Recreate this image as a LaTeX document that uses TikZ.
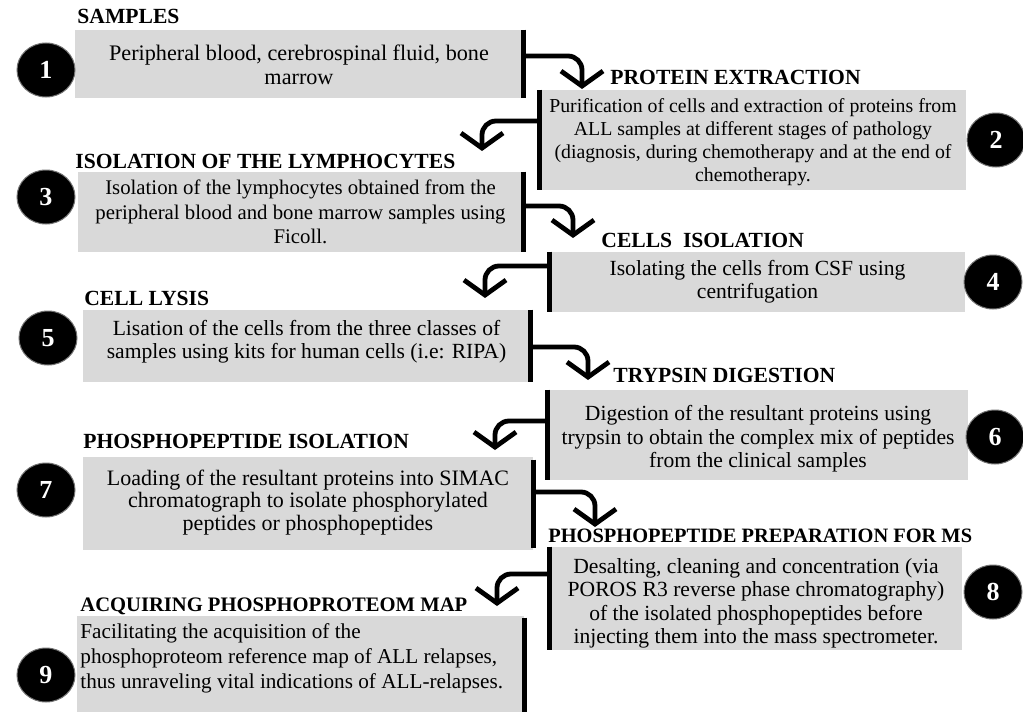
\documentclass[tikz,border=0pt]{standalone}
\usepackage{fontspec}
\setmainfont{Liberation Serif}
\usetikzlibrary{arrows.meta,shapes.geometric,fit}
\definecolor{boxgray}{RGB}{217,217,217}

\begin{document}
\begin{tikzpicture}[x=0.5pt,y=-0.5pt,
    box/.style={fill=boxgray,inner sep=0pt},
    txt/.style={inner sep=0pt,align=center,font=\fontsize{10.8}{11.7}\selectfont},
    title/.style={anchor=base west,inner sep=0pt,font=\fontsize{10.8}{12}\selectfont\bfseries},
    num/.style={ellipse,fill=black,draw=black!55,line width=0.5pt,minimum width=29pt,minimum height=27pt,inner sep=0pt,text=white,font=\fontsize{13}{15}\selectfont\bfseries},
    bar/.style={line width=2.5pt},
    flow/.style={line width=2.4pt,rounded corners=7pt,-{Straight Barb[length=7.5pt,width=21pt]}}]
        \useasboundingbox (0,0) rectangle (1023,712);
        % boxes
        \node[box,fit={(75,30) (523,98)}] (B1) {};
        \node[box,fit={(540,90) (966,190)}] (B2) {};
        \node[box,fit={(78,172) (523,252)}] (B3) {};
        \node[box,fit={(550,252) (965,312)}] (B4) {};
        \node[box,fit={(83,310) (530,382)}] (B5) {};
        \node[box,fit={(548,390) (968,480)}] (B6) {};
        \node[box,fit={(83,457) (533,550)}] (B7) {};
        \node[box,fit={(550,547) (962,650)}] (B8) {};
        \node[box,fit={(77,616) (524,712)}] (B9) {};
        % box texts
        \node[txt,font=\fontsize{11.1}{12}\selectfont] (X1) at ([yshift=-0.5pt]B1.center) {Peripheral blood, cerebrospinal fluid, bone\\marrow};
        \node[txt,font=\fontsize{9.9}{11.6}\selectfont] (X2) at ([yshift=-1pt]B2.center) {Purification of cells and extraction of proteins from\\ALL samples at different stages of pathology\\(diagnosis, during chemotherapy and at the end of\\chemotherapy.};
        \node[txt,font=\fontsize{10.4}{12.2}\selectfont] (X3) at (B3.center) {Isolation of the lymphocytes obtained from the\\peripheral blood and bone marrow samples using\\Ficoll.};
        \node[txt] (X4) at (B4.center) {Isolating the cells from CSF using\\centrifugation};
        \node[txt] (X5) at ([yshift=2pt]B5.center) {Lisation of the cells from the three classes of\\samples using kits for human cells (i.e: RIPA)};
        \node[txt] (X6) at ([yshift=-2pt]B6.center) {Digestion of the resultant proteins using\\trypsin to obtain the complex mix of peptides\\from the clinical samples};
        \node[txt,font=\fontsize{11}{11.3}\selectfont] (X7) at ([yshift=0.5pt]B7.center) {Loading of the resultant proteins into SIMAC\\chromatograph to isolate phosphorylated\\peptides or phosphopeptides};
        \node[txt] (X8) at ([yshift=-2.5pt]B8.center) {Desalting, cleaning and concentration (via\\POROS R3 reverse phase chromatography)\\of the isolated phosphopeptides before\\injecting them into the mass spectrometer.};
        \node[txt,align=left,anchor=north west,font=\fontsize{10.6}{12.5}\selectfont] (X9) at (80,623) {Facilitating the acquisition of the\\phosphoproteom reference map of ALL relapses,\\thus unraveling vital indications of ALL-relapses.};
        % titles
        \node[title] (T1) at (77,24) {SAMPLES};
        \node[title] (T2) at (610,84) {PROTEIN EXTRACTION};
        \node[title] (T3) at (75,168) {ISOLATION OF THE LYMPHOCYTES};
        \node[title] (T4) at (601,247) {CELLS\ \ ISOLATION};
        \node[title] (T5) at (84,305) {CELL LYSIS};
        \node[title] (T6) at (613,382) {TRYPSIN DIGESTION};
        \node[title] (T7) at (83,448) {PHOSPHOPEPTIDE ISOLATION};
        \node[title,font=\fontsize{10.2}{12}\selectfont\bfseries] (T8) at (548,542) {PHOSPHOPEPTIDE PREPARATION FOR MS};
        \node[title,font=\fontsize{10.3}{12}\selectfont\bfseries] (T9) at (80,611) {ACQUIRING PHOSPHOPROTEOM MAP};
        % step numbers
        \node[num] (N1) at (46,70) {1};
        \node[num] (N2) at (996,140) {2};
        \node[num] (N3) at (46,197) {3};
        \node[num] (N4) at (993,282) {4};
        \node[num] (N5) at (48,338) {5};
        \node[num] (N6) at (995,437) {6};
        \node[num] (N7) at (46,490) {7};
        \node[num] (N8) at (993,592) {8};
        \node[num] (N9) at (46,675) {9};
        % bars
        \draw[bar] (B1.north east) -- (B1.south east);
        \draw[bar] (B2.north west) -- (B2.south west);
        \draw[bar] (B3.north east) -- (B3.south east);
        \draw[bar] (B4.north west) -- (B4.south west);
        \draw[bar] (B5.north east) -- (B5.south east);
        \draw[bar] (B6.north west) -- (B6.south west);
        \draw[bar] ([yshift=-1.5pt]B7.north east) -- ([yshift=1pt]B7.south east);
        \draw[bar] (B8.north west) -- (B8.south west);
        \draw[bar] ([yshift=-1pt]B9.north east) -- (B9.south east);
        % arrow starts and tips
        \coordinate (S1) at (523,56);  \coordinate (A2) at (582,89);
        \coordinate (S2) at (540,121); \coordinate (A3) at (482,151);
        \coordinate (S3) at (523,206); \coordinate (A4) at (573,238);
        \coordinate (S4) at (550,266); \coordinate (A5) at (485,298);
        \coordinate (S5) at (530,347); \coordinate (A6) at (588,380);
        \coordinate (S6) at (548,421); \coordinate (A7) at (495,450);
        \coordinate (S7) at (533,492); \coordinate (A8) at (595,527);
        \coordinate (S8) at (550,574); \coordinate (A9) at (497,606);
        \draw[flow] (S1) -| (A2);
        \draw[flow] (S2) -| (A3);
        \draw[flow] (S3) -| (A4);
        \draw[flow] (S4) -| (A5);
        \draw[flow] (S5) -| (A6);
        \draw[flow] (S6) -| (A7);
        \draw[flow] (S7) -| (A8);
        \draw[flow] (S8) -| (A9);
    \end{tikzpicture}
\end{document}
